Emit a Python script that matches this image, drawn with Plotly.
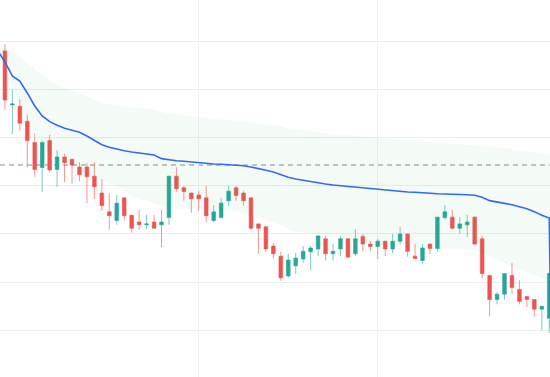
import plotly.graph_objects as go

# candle index (x), OHLC values
idx = list(range(0, 75))
open_ = [135.0, 129.0, 123.4, 123.25, 121.7, 119.5, 116.9, 119.7, 116.7, 118.0,
         117.75, 116.95, 116.95, 116.0, 114.25, 112.3, 111.4, 113.75, 111.95, 111.25,
         110.95, 111.25, 110.95, 111.7, 116.0, 114.8, 114.25, 114.05, 113.75, 111.4,
         111.7, 113.45, 114.8, 114.25, 113.75, 111.05, 110.75, 108.75, 107.7, 105.65,
         106.7, 107.4, 108.15, 108.45, 109.5, 107.95, 108.45, 109.5, 107.95, 109.75,
         108.95, 108.7, 109.25, 108.45, 109.25, 110.0, 107.7, 107.25, 108.95, 108.5,
         111.7, 111.75, 110.6, 110.95, 111.75, 109.5, 105.7, 103.2, 103.75, 105.7,
         104.25, 103.5, 103.2, 102.2, 101.25]
high = [135.5, 129.7, 125.0, 124.0, 122.4, 120.45, 119.7, 120.3, 118.7, 118.35,
        117.8, 117.45, 117.35, 117.45, 115.7, 114.25, 114.05, 113.8, 112.0, 112.5,
        112.0, 111.95, 112.5, 116.05, 116.95, 115.0, 114.3, 114.45, 115.0, 113.0,
        113.75, 115.0, 115.0, 114.45, 113.8, 111.1, 110.8, 109.05, 108.15, 107.95,
        108.05, 108.75, 108.75, 109.85, 109.8, 109.0, 109.8, 109.55, 110.5, 110.0,
        109.3, 109.5, 109.3, 110.0, 110.75, 110.05, 108.95, 108.95, 109.0, 111.8,
        113.0, 112.5, 111.75, 112.0, 111.8, 109.8, 105.75, 104.0, 105.95, 107.0,
        105.2, 103.55, 103.25, 102.5, 106.0]
low = [129.6, 122.9, 120.4, 120.7, 116.9, 115.95, 114.4, 116.45, 114.9, 115.4,
       115.2, 115.45, 113.2, 113.65, 112.4, 110.45, 110.95, 111.4, 110.15, 110.45,
       110.5, 110.6, 108.65, 110.95, 114.4, 113.45, 112.2, 112.4, 111.2, 111.2,
       111.65, 112.95, 113.45, 112.95, 110.45, 107.95, 108.15, 107.45, 105.15, 105.45,
       105.85, 107.0, 106.25, 107.7, 107.25, 107.25, 107.7, 107.45, 107.7, 108.2,
       108.2, 107.4, 107.7, 107.95, 108.95, 107.65, 107.45, 106.95, 107.9, 108.2,
       111.5, 110.45, 110.0, 109.7, 108.9, 105.4, 101.45, 102.7, 103.2, 103.75,
       102.7, 102.45, 101.45, 100.0, 99.7]
close = [129.85, 123.9, 123.5, 121.5, 119.7, 116.7, 119.5, 116.65, 118.0, 117.4,
         117.15, 116.15, 115.95, 114.9, 112.95, 111.9, 113.2, 111.9, 110.6, 110.95,
         111.05, 110.6, 111.25, 116.0, 114.7, 114.4, 113.65, 113.65, 111.9, 112.3,
         113.2, 114.45, 114.0, 113.45, 110.6, 110.6, 108.45, 107.95, 105.45, 107.3,
         107.5, 108.2, 108.55, 109.8, 107.95, 108.2, 109.5, 107.6, 109.5, 108.95,
         108.7, 109.25, 108.45, 109.25, 110.0, 108.2, 107.45, 108.55, 108.5, 111.75,
         112.3, 110.6, 111.05, 111.25, 108.95, 105.9, 103.2, 103.75, 105.9, 104.45,
         103.0, 103.2, 102.2, 102.5, 105.9]

# moving-average line and cloud band (index 0..75)
line_idx = list(range(0, 76))
ma = [129.07, 127.86, 126.40, 125.88, 124.64, 123.29, 122.25, 121.66, 121.28, 120.97,
      120.77, 120.56, 120.17, 119.76, 119.27, 119.00, 118.79, 118.65, 118.51, 118.41,
      118.30, 118.20, 117.82, 117.68, 117.61, 117.55, 117.47, 117.40, 117.34, 117.27,
      117.24, 117.19, 117.16, 117.09, 116.96, 116.75, 116.61, 116.44, 116.16, 115.89,
      115.71, 115.57, 115.43, 115.29, 115.19, 115.09, 115.01, 114.95, 114.88, 114.81,
      114.70, 114.64, 114.57, 114.50, 114.43, 114.36, 114.33, 114.26, 114.22, 114.18,
      114.15, 114.15, 114.12, 114.08, 114.02, 113.81, 113.46, 113.32, 113.19, 113.04,
      112.83, 112.63, 112.32, 111.94, 111.66, 55.0]
band_upper = [129.72, 129.44, 128.95, 128.43, 127.75, 127.13, 126.45, 125.94, 125.47, 125.16,
              124.90, 124.59, 124.27, 123.91, 123.55, 123.44, 123.29, 123.20, 123.13, 123.08,
              123.06, 122.92, 122.66, 122.51, 122.41, 122.30, 122.22, 122.15, 122.02, 121.94,
              121.86, 121.78, 121.70, 121.66, 121.57, 121.47, 121.39, 121.28, 121.21, 120.95,
              120.83, 120.74, 120.64, 120.54, 120.45, 120.36, 120.28, 120.25, 120.17, 120.12,
              120.07, 120.04, 119.97, 119.91, 119.83, 119.76, 119.69, 119.63, 119.57, 119.55,
              119.45, 119.37, 119.32, 119.26, 119.22, 119.14, 119.08, 119.00, 118.90, 118.81,
              118.69, 118.56, 118.46, 118.33, 118.20, 118.10]
band_lower = [128.89, 127.86, 125.16, 123.08, 121.63, 120.49, 119.14, 118.20, 117.68, 117.27,
              116.96, 116.64, 116.33, 115.92, 115.50, 115.19, 114.98, 114.67, 113.94, 113.63,
              113.43, 113.22, 113.01, 112.75, 112.65, 112.60, 112.54, 112.49, 112.49, 112.49,
              112.49, 112.44, 112.39, 112.18, 111.97, 111.61, 111.45, 111.25, 110.93, 110.52,
              110.31, 110.21, 110.10, 110.00, 109.84, 109.69, 109.53, 109.38, 109.22, 109.07,
              108.91, 108.75, 108.70, 108.65, 108.62, 108.60, 108.57, 108.55, 108.53, 108.51,
              108.48, 108.44, 108.41, 108.38, 108.34, 108.03, 107.72, 107.35, 106.99, 106.68,
              106.31, 106.06, 105.74, 105.43, 105.22, 104.91]

ref_level = 117.16
y_ticks = [100, 105, 110, 115, 120, 125, 130]
x_ticks = [27, 51]

UP = "#26a69a"
DOWN = "#ef5350"

fig = go.Figure()
fig.add_trace(go.Scatter(x=line_idx, y=band_lower, mode="lines",
                         line=dict(width=0), hoverinfo="skip", showlegend=False))
fig.add_trace(go.Scatter(x=line_idx, y=band_upper, mode="lines", fill="tonexty",
                         fillcolor="rgba(76,175,80,0.06)",
                         line=dict(width=0), hoverinfo="skip", showlegend=False))
fig.add_trace(go.Scatter(x=line_idx, y=ma, mode="lines",
                         line=dict(color="#2f6bf5", width=1.6), showlegend=False))
fig.add_trace(go.Candlestick(
    x=idx, open=open_, high=high, low=low, close=close,
    increasing=dict(line=dict(color="rgba(38,166,154,0.6)", width=1), fillcolor=UP),
    decreasing=dict(line=dict(color="rgba(239,83,80,0.6)", width=1), fillcolor=DOWN),
    showlegend=False))

fig.add_shape(type="line", xref="paper", x0=0, x1=1, yref="y", y0=ref_level, y1=ref_level,
              line=dict(color="#8c8c8c", width=1, dash="5px,4px"), layer="below")

fig.update_layout(
    width=550, height=377,
    margin=dict(l=0, r=0, t=0, b=0),
    paper_bgcolor="white", plot_bgcolor="white",
    showlegend=False,
    xaxis=dict(range=[0.342, 74.10], rangeslider=dict(visible=False),
               tickvals=x_ticks, showticklabels=False, showgrid=True,
               gridcolor="#f2f2f2", zeroline=False, showline=False),
    yaxis=dict(range=[95.155, 134.29], tickvals=y_ticks, showticklabels=False,
               showgrid=True, gridcolor="#ededed", zeroline=False, showline=False),
)

fig.write_html("out.html", config={"displayModeBar": False},
               post_script="document.body.style.margin='0';document.body.style.overflow='hidden';")
